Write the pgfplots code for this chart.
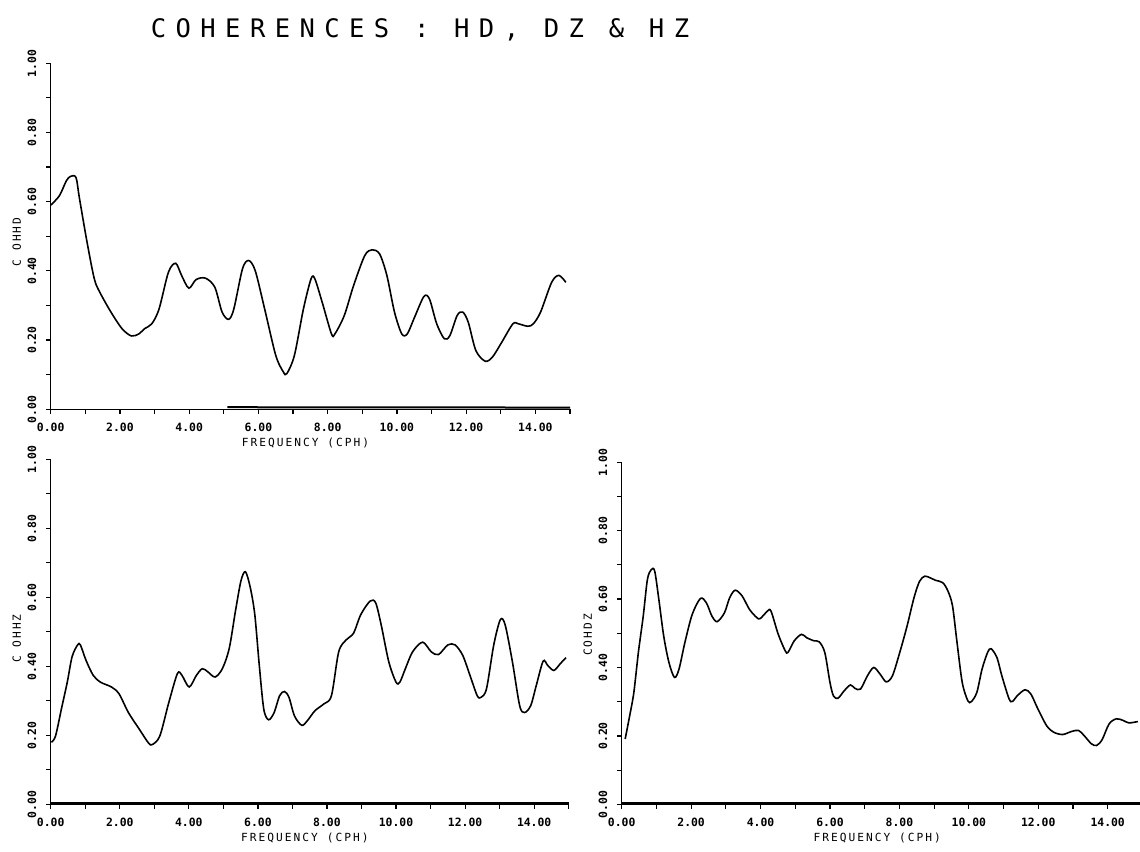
\documentclass[border=0pt]{standalone}
\usepackage{fontspec}
\usepackage{pgfplots}
\pgfplotsset{compat=1.18}
\newfontfamily\monofont{DejaVu Sans Mono}
\newfontfamily\titlefont{DejaVu Sans Mono}[LetterSpace=37]
\newfontfamily\labfont{DejaVu Sans Mono}[LetterSpace=18]

\pgfplotsset{cohstyle/.style={
  scale only axis, xmin=0, xmax=15, ymin=0, ymax=1,
  axis x line=bottom, axis y line=left,
  axis line style={-, line width=0.7pt, black},
  xtick={0,1,2,3,4,5,6,7,8,9,10,11,12,13,14,15},
  xticklabels={0.00,,2.00,,4.00,,6.00,,8.00,,10.00,,12.00,,14.00,},
  ytick={0,0.1,0.2,0.3,0.4,0.5,0.6,0.7,0.8,0.9,1.0},
  yticklabels={0.00,,0.20,,0.40,,0.60,,0.80,,1.00},
  tick align=outside, major tick length=2.2pt,
  tick style={line width=0.6pt, black},
  xticklabel style={font=\monofont\bfseries\fontsize{5.7}{6}\selectfont, anchor=center, yshift=-6.8pt, inner sep=0pt},
  yticklabel style={font=\monofont\bfseries\fontsize{5.7}{6}\selectfont, xshift=-7.2pt, rotate=90, anchor=center, inner sep=0pt},
  clip=false,
}}

\begin{document}
\begin{tikzpicture}[x=1pt,y=1pt]
\useasboundingbox (0,0) rectangle (570,425.5);
\node[font=\titlefont\fontsize{12.75}{14}\selectfont] at (210,410.5) {COHERENCES : HD, DZ \& HZ};

% Panel 1: HD
\begin{axis}[cohstyle, at={(25.35pt,220.85pt)}, anchor=south west, width=259.65pt, height=173pt]
\addplot[black, line width=0.8pt, smooth, no markers] coordinates {
(0,0.59) (0.25,0.617) (0.45,0.66) (0.57,0.673) (0.73,0.67) (0.83,0.61) (1.05,0.483) (1.26,0.377) (1.42,0.338) (1.74,0.281) (2.06,0.233) (2.33,0.212) (2.55,0.218) (2.71,0.233) (2.92,0.247) (3.13,0.29) (3.40,0.396) (3.61,0.422) (3.78,0.387) (3.99,0.35) (4.20,0.375) (4.47,0.379) (4.74,0.353) (4.95,0.281) (5.14,0.26) (5.29,0.29) (5.54,0.406) (5.72,0.43) (5.91,0.40) (6.18,0.29) (6.50,0.156) (6.72,0.108) (6.82,0.103) (7.04,0.156) (7.30,0.29) (7.52,0.377) (7.63,0.377) (7.84,0.31) (8.11,0.218) (8.21,0.218) (8.48,0.271) (8.75,0.358) (9.07,0.444) (9.28,0.461) (9.50,0.449) (9.71,0.387) (9.93,0.281) (10.14,0.218) (10.30,0.218) (10.51,0.266) (10.78,0.326) (10.94,0.319) (11.15,0.247) (11.37,0.204) (11.53,0.213) (11.74,0.271) (11.90,0.281) (12.06,0.252) (12.28,0.17) (12.55,0.139) (12.76,0.151) (13.03,0.194) (13.35,0.247) (13.51,0.247) (13.78,0.24) (13.94,0.247) (14.15,0.281) (14.47,0.367) (14.68,0.387) (14.88,0.367)
};
\addplot[black, line width=1pt, no markers] coordinates {(5.1,0.006) (15,0.005)};
\node[font=\labfont\fontsize{5.6}{6}\selectfont, rotate=90] at ([xshift=-17pt]rel axis cs:0,0.484) {C OHHD};
\node[font=\labfont\fontsize{5.6}{6}\selectfont] at ([yshift=-17pt]axis cs:7.36,0) {FREQUENCY (CPH)};
\end{axis}

% Panel 2: HZ
\begin{axis}[cohstyle, at={(25.35pt,23.35pt)}, anchor=south west, width=259pt, height=172.5pt]
\addplot[black, line width=0.8pt, smooth, no markers] coordinates {
(0.02,0.18) (0.14,0.198) (0.32,0.281) (0.48,0.354) (0.62,0.428) (0.78,0.462) (0.86,0.462) (1.02,0.418) (1.23,0.374) (1.44,0.354) (1.76,0.34) (1.98,0.32) (2.25,0.266) (2.57,0.217) (2.83,0.178) (2.94,0.173) (3.16,0.198) (3.42,0.295) (3.67,0.379) (3.80,0.374) (4.01,0.34) (4.22,0.374) (4.39,0.393) (4.55,0.384) (4.76,0.369) (4.97,0.393) (5.17,0.452) (5.35,0.56) (5.51,0.648) (5.64,0.674) (5.78,0.628) (5.91,0.55) (6.04,0.403) (6.17,0.276) (6.31,0.245) (6.47,0.266) (6.63,0.315) (6.77,0.327) (6.90,0.31) (7.06,0.256) (7.27,0.229) (7.43,0.242) (7.65,0.271) (7.91,0.291) (8.13,0.315) (8.34,0.442) (8.56,0.477) (8.77,0.496) (8.98,0.55) (9.25,0.589) (9.41,0.584) (9.57,0.52) (9.79,0.413) (10.0,0.354) (10.11,0.354) (10.27,0.393) (10.48,0.442) (10.77,0.47) (11.02,0.442) (11.23,0.434) (11.5,0.462) (11.71,0.462) (11.93,0.432) (12.14,0.374) (12.35,0.315) (12.46,0.31) (12.62,0.335) (12.83,0.462) (13.02,0.535) (13.16,0.52) (13.37,0.413) (13.58,0.286) (13.72,0.266) (13.90,0.286) (14.06,0.344) (14.26,0.415) (14.39,0.403) (14.57,0.388) (14.76,0.408) (14.92,0.425)
};
\addplot[black, line width=0.9pt, no markers] coordinates {(0,0.003) (15,0.003)};
\node[font=\labfont\fontsize{5.6}{6}\selectfont, rotate=90] at ([xshift=-17pt]rel axis cs:0,0.48) {C OHHZ};
\node[font=\labfont\fontsize{5.6}{6}\selectfont] at ([yshift=-17pt]axis cs:7.36,0) {FREQUENCY (CPH)};
\end{axis}

% Panel 3: DZ
\begin{axis}[cohstyle, at={(310.85pt,23.35pt)}, anchor=south west, width=260.35pt, height=171pt]
\addplot[black, line width=0.8pt, smooth, no markers] coordinates {
(0.10,0.191) (0.23,0.259) (0.35,0.327) (0.48,0.444) (0.62,0.55) (0.74,0.657) (0.85,0.686) (0.95,0.682) (1.07,0.599) (1.21,0.492) (1.36,0.415) (1.52,0.371) (1.65,0.395) (1.82,0.473) (2.03,0.555) (2.27,0.602) (2.44,0.589) (2.60,0.55) (2.75,0.534) (2.96,0.56) (3.11,0.604) (3.27,0.626) (3.47,0.609) (3.68,0.57) (3.89,0.546) (3.99,0.543) (4.20,0.565) (4.30,0.565) (4.51,0.497) (4.71,0.449) (4.79,0.444) (4.97,0.478) (5.18,0.497) (5.33,0.487) (5.54,0.478) (5.69,0.475) (5.85,0.444) (6.0,0.356) (6.10,0.317) (6.23,0.31) (6.41,0.332) (6.59,0.349) (6.72,0.339) (6.88,0.337) (7.08,0.376) (7.26,0.40) (7.44,0.381) (7.62,0.358) (7.80,0.376) (8.01,0.444) (8.22,0.521) (8.42,0.604) (8.58,0.652) (8.73,0.667) (8.89,0.662) (9.04,0.655) (9.25,0.648) (9.40,0.623) (9.53,0.58) (9.66,0.473) (9.81,0.356) (9.97,0.303) (10.07,0.30) (10.23,0.327) (10.38,0.395) (10.54,0.444) (10.64,0.455) (10.81,0.429) (10.95,0.376) (11.16,0.308) (11.26,0.301) (11.39,0.317) (11.62,0.335) (11.79,0.322) (11.97,0.283) (12.24,0.23) (12.44,0.211) (12.70,0.204) (12.96,0.213) (13.16,0.216) (13.32,0.201) (13.53,0.177) (13.68,0.172) (13.84,0.189) (14.04,0.235) (14.25,0.25) (14.45,0.245) (14.61,0.238) (14.87,0.242)
};
\addplot[black, line width=0.9pt, no markers] coordinates {(0,0.003) (15,0.003)};
\node[font=\labfont\fontsize{5.6}{6}\selectfont, rotate=90] at ([xshift=-17pt]rel axis cs:0,0.495) {COHDZ};
\node[font=\labfont\fontsize{5.6}{6}\selectfont] at ([yshift=-17pt]axis cs:7.36,0) {FREQUENCY (CPH)};
\end{axis}
\end{tikzpicture}
\end{document}
